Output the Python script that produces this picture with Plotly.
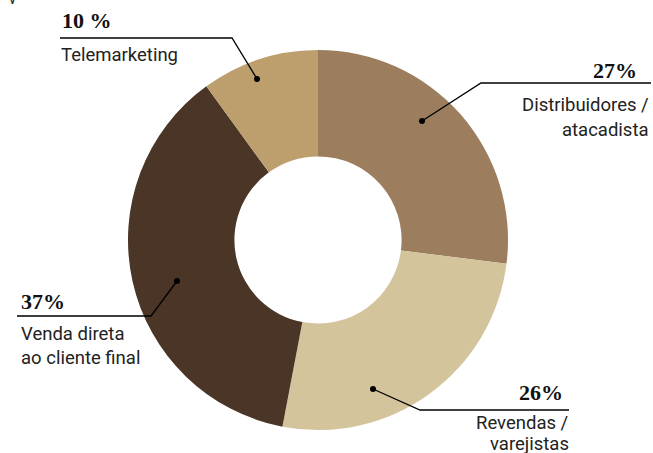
import plotly.graph_objects as go

labels = ["Distribuidores / atacadista", "Revendas / varejistas", "Venda direta ao cliente final", "Telemarketing"]
values = [27, 26, 37, 10]
pct_text = ["27%", "26%", "37%", "10 %"]
colors = ["#9C7E5F", "#D3C49C", "#4B3526", "#BD9F6E"]

W, H = 653, 453
def px(x, y):
    return x / W, 1 - y / H

fig = go.Figure(go.Pie(
    labels=labels, values=values, sort=False, direction="clockwise", rotation=0,
    hole=0.44, marker=dict(colors=colors, line=dict(width=0)),
    textinfo="none", hoverinfo="label+percent", showlegend=False,
    domain=dict(x=[128 / W, 508 / W], y=[1 - 430 / H, 1 - 50 / H]),
))

shapes = []
annotations = []

def leader(pts, dot):
    path = "M " + " L ".join(f"{px(x,y)[0]},{px(x,y)[1]}" for x, y in pts)
    shapes.append(dict(type="path", xref="paper", yref="paper", path=path,
                       line=dict(color="black", width=1.3)))
    dx, dy = dot
    x0, y0 = px(dx - 3, dy - 3)
    x1, y1 = px(dx + 3, dy + 3)
    shapes.append(dict(type="circle", xref="paper", yref="paper", x0=x0, y0=y1, x1=x1, y1=y0,
                       fillcolor="black", line=dict(width=0)))

def text(t, x, y, anchor, size, bold_serif=False):
    xx, yy = px(x, y)
    font = dict(family="Liberation Serif", size=size, color="#111") if bold_serif else \
        dict(family="Roboto", size=size, color="#222")
    annotations.append(dict(text=f"<b>{t}</b>" if bold_serif else t, x=xx, y=yy, xref="paper", yref="paper",
                            xanchor=anchor, yanchor="middle", showarrow=False, font=font, align=anchor))

TS = 18.5
PS = 22

# Telemarketing
leader([(60, 38), (232, 38), (257, 79)], (257, 79))
text(pct_text[3], 60, 20, "left", PS, True)
text("Telemarketing", 59, 55, "left", TS)

# Distribuidores
leader([(651, 83), (481, 83), (422, 121)], (422, 121))
text(pct_text[0], 639, 70, "right", PS, True)
text("Distribuidores /", 651, 105, "right", TS)
text("atacadista", 651, 130, "right", TS)

# Venda direta
leader([(17, 316), (151, 316), (177, 281)], (177, 281))
text(pct_text[2], 19, 301, "left", PS, True)
text("Venda direta", 19, 334, "left", TS)
text("ao cliente final", 19, 358, "left", TS)

# Revendas
leader([(569, 410), (420, 410), (373, 389)], (373, 389))
text(pct_text[1], 565, 392, "right", PS, True)
text("Revendas /", 571, 423, "right", TS)
text("varejistas", 571, 444, "right", TS)

# cut-off glyph at top-left
annotations.append(dict(text="V", x=12 / W, y=1 - 9 / H, xref="paper", yref="paper",
                        xanchor="center", yanchor="bottom", showarrow=False,
                        font=dict(family="Roboto", size=14, color="#222")))

fig.update_layout(width=W, height=H, margin=dict(l=0, r=0, t=0, b=0),
                  paper_bgcolor="white", plot_bgcolor="white",
                  shapes=shapes, annotations=annotations)
fig.write_html("out.html", config={"displayModeBar": False},
               post_script="document.body.style.margin='0';document.body.style.overflow='hidden';")
